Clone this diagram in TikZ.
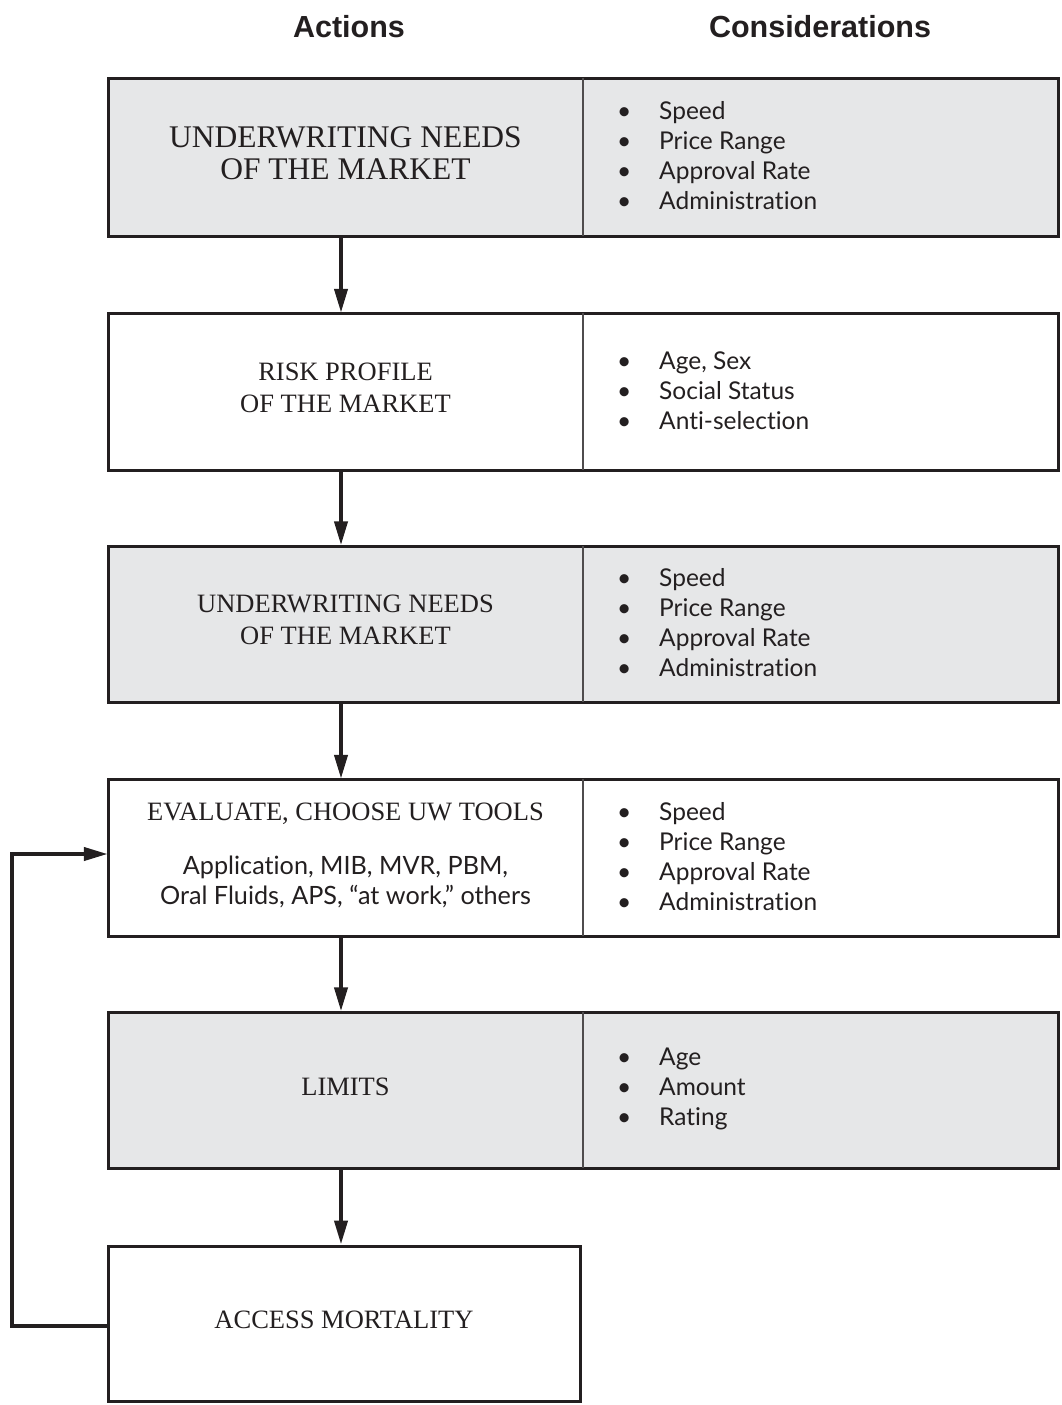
\documentclass[tikz,border=0pt]{standalone}
\usepackage{fontspec}
\setmainfont{Liberation Serif}
\newfontfamily\lstfont[Ligatures=NoCommon]{Lato}
\newfontfamily\hdrfont{Liberation Sans}
\usetikzlibrary{arrows.meta}
\definecolor{boxgray}{HTML}{E6E7E8}
\definecolor{ink}{HTML}{231F20}
\tikzset{
  cell/.style={rectangle, inner sep=0pt, minimum width=475pt, minimum height=157pt, draw=none},
  grayfill/.style={fill=boxgray},
  whitefill/.style={fill=white},
  outer/.style={draw=ink, line width=3pt},
  divider/.style={draw=ink!80, line width=2pt},
  title/.style={font=\fontsize{26.5}{32}\selectfont, align=center, text=ink},
  bigtitle/.style={font=\fontsize{31.5}{32}\selectfont, align=center, text=ink},
  lst/.style={font=\lstfont\fontsize{24.5}{30}\selectfont, align=left, anchor=west, text=ink, inner sep=0pt},
  hdr/.style={font=\hdrfont\bfseries\fontsize{30.5}{32}\selectfont, text=ink},
  flow/.style={line width=4pt, draw=ink, -{Triangle[length=24pt,width=13pt]}},
}
\newcommand{\bl}[1]{\makebox[42pt][l]{\textbullet}#1}
\begin{document}
\begin{tikzpicture}[x=1pt,y=-1pt]
\useasboundingbox (0,0) rectangle (1061,1405);

\node[hdr] (hA) at (349,27) {Actions};
\node[hdr] (hC) at (820,27) {Considerations};

% row 1
\node[cell,grayfill] (L1) at (345.5,157) {};
\node[cell,grayfill] (R1) at (820.5,157) {};
\draw[outer] (108,78) rectangle (1058,236);
\draw[divider] (583,78) -- (583,236);
\node[bigtitle] (T1) at (345.5,153) {UNDERWRITING NEEDS\\OF THE MARKET};
\node[lst] (C1) at (617,156) {\bl{Speed}\\\bl{Price Range}\\\bl{Approval Rate}\\\bl{Administration}};

% row 2
\node[cell,whitefill] (L2) at (345.5,391.5) {};
\node[cell,whitefill] (R2) at (820.5,391.5) {};
\draw[outer] (108,313) rectangle (1058,470);
\draw[divider] (583,313) -- (583,470);
\node[title] (T2) at (345.5,388) {RISK PROFILE\\OF THE MARKET};
\node[lst] (C2) at (617,391) {\bl{Age, Sex}\\\bl{Social Status}\\\bl{Anti-selection}};

% row 3
\node[cell,grayfill] (L3) at (345.5,624) {};
\node[cell,grayfill] (R3) at (820.5,624) {};
\draw[outer] (108,546) rectangle (1058,702);
\draw[divider] (583,546) -- (583,702);
\node[title] (T3) at (345.5,620) {UNDERWRITING NEEDS\\OF THE MARKET};
\node[lst] (C3) at (617,623) {\bl{Speed}\\\bl{Price Range}\\\bl{Approval Rate}\\\bl{Administration}};

% row 4
\node[cell,whitefill] (L4) at (345.5,857.5) {};
\node[cell,whitefill] (R4) at (820.5,857.5) {};
\draw[outer] (108,779) rectangle (1058,936);
\draw[divider] (583,779) -- (583,936);
\node[title] (T4) at (345.5,814) {EVALUATE, CHOOSE UW TOOLS};
\node[font=\lstfont\fontsize{25.2}{30}\selectfont, align=center, text=ink] (T4b) at (345.5,882) {Application, MIB, MVR, PBM,\\Oral Fluids, APS, “at work,” others};
\node[lst] (C4) at (617,857) {\bl{Speed}\\\bl{Price Range}\\\bl{Approval Rate}\\\bl{Administration}};

% row 5
\node[cell,grayfill] (L5) at (345.5,1090) {};
\node[cell,grayfill] (R5) at (820.5,1090) {};
\draw[outer] (108,1012) rectangle (1058,1168);
\draw[divider] (583,1012) -- (583,1168);
\node[title] (T5) at (345.5,1087) {LIMITS};
\node[lst] (C5) at (617,1089) {\bl{Age}\\\bl{Amount}\\\bl{Rating}};

% row 6
\node[rectangle, minimum width=472pt, minimum height=155pt, inner sep=0pt, outer, fill=white] (L6) at (344,1323.5) {};
\node[title] (T6) at (344,1320) {ACCESS MORTALITY};

% arrows
\draw[flow] (341,0 |- L1.south) -- (341,0 |- L2.north);
\draw[flow] (341,0 |- L2.south) -- (341,0 |- L3.north);
\draw[flow] (341,0 |- L3.south) -- (341,0 |- L4.north);
\draw[flow] (341,0 |- L4.south) -- (341,0 |- L5.north);
\draw[flow] (341,0 |- L5.south) -- (341,0 |- L6.north);

\coordinate (fbA) at (12,1326);
\coordinate (fbB) at (12,854);
\draw[flow] (L6.west |- fbA) -- (fbA) -- (fbB) -- (L4.west |- fbB);
\end{tikzpicture}
\end{document}
